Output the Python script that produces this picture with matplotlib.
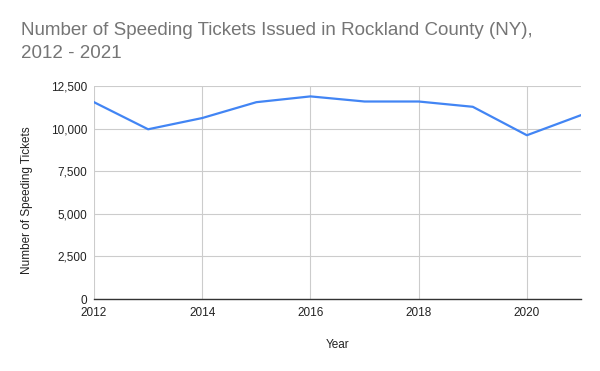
import matplotlib
matplotlib.use("Agg")
import matplotlib.pyplot as plt
from matplotlib.ticker import FuncFormatter

years = [2012, 2013, 2014, 2015, 2016, 2017, 2018, 2019, 2020, 2021]
tickets = [11550, 9960, 10620, 11550, 11890, 11590, 11590, 11280, 9610, 10790]
x_ticks = [2012, 2014, 2016, 2018, 2020]
y_ticks = [0, 2500, 5000, 7500, 10000, 12500]

plt.rcParams['font.family'] = ['Liberation Sans', 'DejaVu Sans']

fig = plt.figure(figsize=(6, 3.71), dpi=100)
ax = fig.add_axes([94/600, 1-299/371, (581-94)/600, (299-86)/371])

ax.plot(years, tickets, color='#4285F4', linewidth=1.6, solid_joinstyle='round')
ax.set_xlim(2012, 2021)
ax.set_ylim(0, 12500)
ax.set_xticks(x_ticks)
ax.set_yticks(y_ticks)
ax.yaxis.set_major_formatter(FuncFormatter(lambda v, p: f"{int(v):,}"))
ax.grid(True, color='#cccccc', linewidth=0.8)
ax.set_axisbelow(True)
for s in ['top', 'right', 'left']:
    ax.spines[s].set_visible(False)
ax.spines['bottom'].set_color('#333333')
ax.spines['bottom'].set_linewidth(1.0)
ax.spines['bottom'].set_zorder(3)
ax.tick_params(length=0, labelsize=8.5, colors='#222222', pad=5)
ax.tick_params(axis='x', pad=6)

fig.text(338/600, 1-345/371, 'Year', fontsize=8.5, color='#222222', ha='center', va='center')
fig.text(27/600, 1-200/371, 'Number of Speeding Tickets', fontsize=8.5, color='#222222',
         ha='center', va='center', rotation=90)

fig.text(21/600, 1-42/371, 'Number of Speeding Tickets Issued in Rockland County (NY),\n2012 - 2021',
         fontsize=13.5, color='#757575', va='center', ha='left', linespacing=1.4)

fig.savefig('out.png', dpi=100)
